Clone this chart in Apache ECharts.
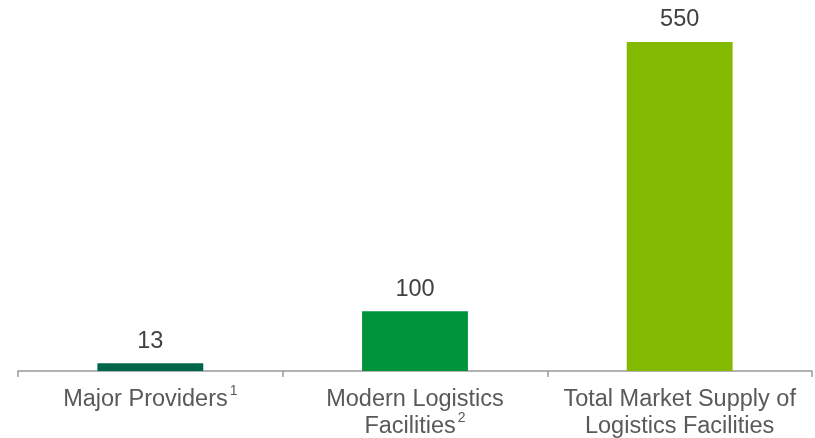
<!DOCTYPE html>
<html><head><meta charset="utf-8">
<script src="https://cdn.jsdelivr.net/npm/echarts@6/dist/echarts.min.js"></script>
<style>html,body{margin:0;padding:0;background:#fff}#c{width:815px;height:438px}</style>
</head><body><div id="c"></div>
<script>
const categories = ['Major Providers{sup|1}', 'Modern Logistics\nFacilities{sup|2}', 'Total Market Supply of\nLogistics Facilities'];
const values = [13, 100, 550];
const colors = ['#00664A', '#00943C', '#83B900'];

const chart = echarts.init(document.getElementById('c'));
chart.setOption({
  animation: false,
  grid: {left: 18, right: 3, top: 42, bottom: 67, outerBoundsMode: 'none', containLabel: false},
  xAxis: {
    type: 'category',
    data: categories,
    axisLine: {lineStyle: {color: '#9a9a9a', width: 1.5}},
    axisTick: {show: true, length: 6, lineStyle: {color: '#9a9a9a', width: 1.5}},
    axisLabel: {
      margin: 15,
      color: '#595959',
      fontFamily: 'Liberation Sans, Arial, sans-serif',
      fontSize: 23.5,
      lineHeight: 27,
      interval: 0,
      rich: {
        sup: {fontSize: 14, color: '#595959', fontFamily: 'Liberation Sans, Arial, sans-serif', padding: [0, 0, 16, 2]}
      }
    }
  },
  yAxis: {type: 'value', min: 0, max: 550, show: false, splitLine: {show: false}},
  series: [{
    type: 'bar',
    barWidth: '40%',
    data: values.map((v, i) => ({value: v, itemStyle: {color: colors[i]}})),
    label: {
      show: true, position: 'top', distance: 10,
      color: '#404040', fontSize: 23.5,
      fontFamily: 'Liberation Sans, Arial, sans-serif'
    }
  }]
});
</script></body></html>
